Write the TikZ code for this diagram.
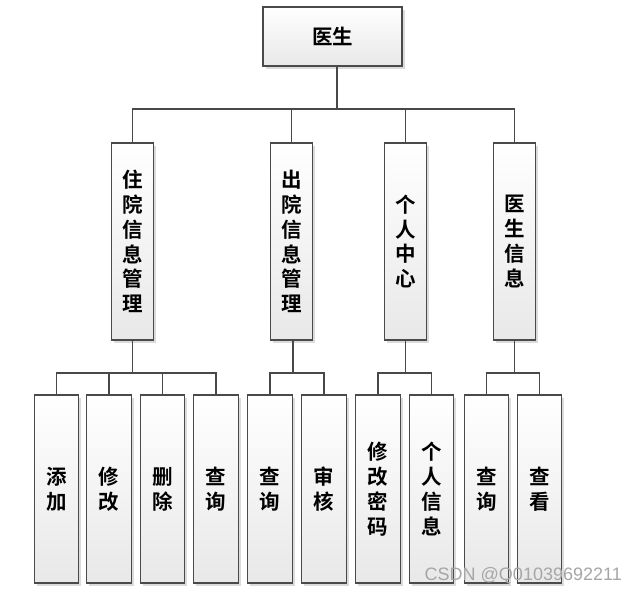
\documentclass[tikz,border=0pt]{standalone}
\usepackage{fontspec}
\setmainfont{Noto Sans CJK SC}[BoldFont={Noto Sans CJK SC Bold}]
\newfontfamily\wmfont{Liberation Sans}
\usetikzlibrary{shadows}
\definecolor{boxline}{HTML}{4A4A4A}
\definecolor{linkline}{HTML}{484848}
\tikzset{
  box/.style={draw=boxline, line width=1.2pt, top color=white, bottom color=black!9,
    inner sep=0pt, align=center, font=\fontsize{20.5}{24.8}\selectfont\bfseries,
    drop shadow={shadow xshift=2.5pt, shadow yshift=-2.5pt, fill=black!14, opacity=1}},
  midbox/.style={box, minimum width=42pt, minimum height=197pt},
  leafbox/.style={box, minimum width=44.5pt, minimum height=188pt},
  link/.style={draw=linkline, line width=1.6pt}
}
\begin{document}
\begin{tikzpicture}[x=1pt, y=-1pt]
\useasboundingbox (0,0) rectangle (638,592);
\fill[white] (0,0) rectangle (638,592);
% root
\node[box, minimum width=139pt, minimum height=59pt] (root) at (332.5,36.5) {医生};
% level 2
\node[midbox] (m1) at (132.5,241.5) {住\\院\\信\\息\\管\\理};
\node[midbox] (m2) at (291.5,241.5) {出\\院\\信\\息\\管\\理};
\node[midbox] (m3) at (405.5,241.5) {个\\人\\中\\心};
\node[midbox] (m4) at (514.5,241.5) {医\\生\\信\\息};
% level 3
\node[leafbox] (a1) at (56.5,489) {添\\加};
\node[leafbox] (a2) at (109,489) {修\\改};
\node[leafbox] (a3) at (162.5,489) {删\\除};
\node[leafbox] (a4) at (216,489) {查\\询};
\node[leafbox] (b1) at (270,489) {查\\询};
\node[leafbox] (b2) at (324,489) {审\\核};
\node[leafbox] (c1) at (378,489) {修\\改\\密\\码};
\node[leafbox] (c2) at (431.5,489) {个\\人\\信\\息};
\node[leafbox] (d1) at (486.5,489) {查\\询};
\node[leafbox] (d2) at (539.5,489) {查\\看};
% bus coordinates
\coordinate (bus1) at (0,109);
\coordinate (bus2) at (0,373);
\coordinate (rootout) at ([xshift=4.5pt]root.south);
% connectors level 1 -> 2
\foreach \n in {m1,m2,m3,m4}
  \draw[link] (rootout) -- (rootout |- bus1) -| (\n.north);
% connectors level 2 -> 3
\foreach \n in {a1,a2,a3,a4}
  \draw[link] (m1.south) -- (m1.south |- bus2) -| (\n.north);
\foreach \n in {b1,b2}
  \draw[link] ([xshift=1.5pt]m2.south) -- ([xshift=1.5pt]m2.south |- bus2) -| (\n.north);
\foreach \n in {c1,c2}
  \draw[link] (m3.south) -- (m3.south |- bus2) -| (\n.north);
\foreach \n in {d1,d2}
  \draw[link] (m4.south) -- (m4.south |- bus2) -| (\n.north);
% watermark
\node[font=\wmfont\fontsize{18}{20}\selectfont, text=black!35, inner sep=0pt, anchor=base east] (wm) at (622,580) {CSDN @Q01039692211};
\end{tikzpicture}
\end{document}
